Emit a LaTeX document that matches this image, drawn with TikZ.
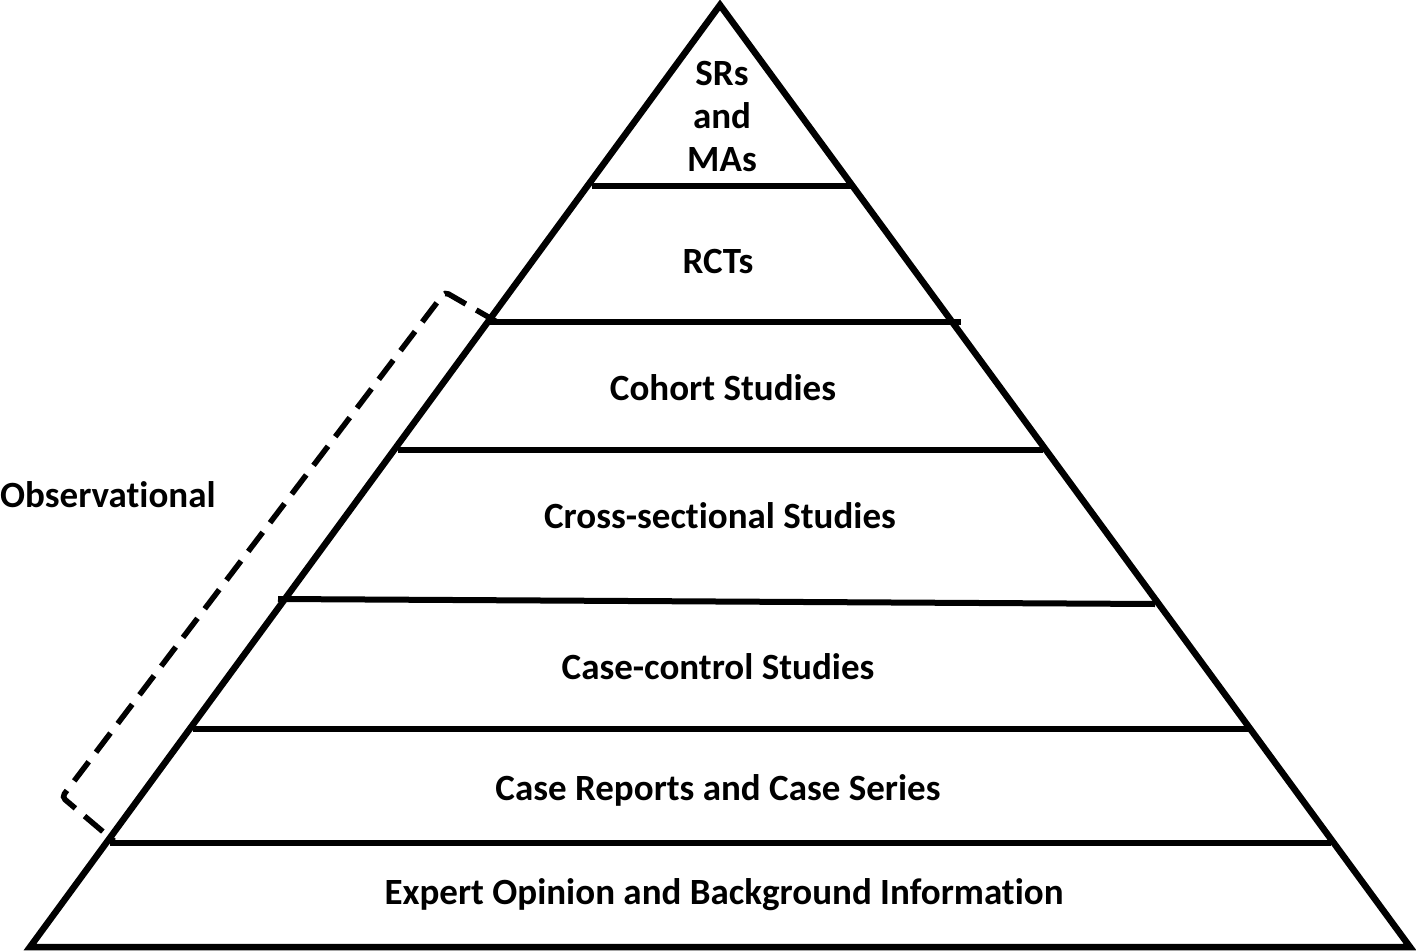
\documentclass[tikz,border=0pt]{standalone}
\usepackage{fontspec}
\setmainfont[RawFeature=-liga]{Carlito}
\begin{document}
\begin{tikzpicture}[x=1pt,y=-1pt,
  edge/.style={line width=6.5pt, line join=miter},
  tier/.style={line width=6pt},
  lbl/.style={font=\bfseries\fontsize{37}{43}\selectfont, align=center, inner sep=0pt},
  bracket/.style={line width=5.5pt, dash pattern=on 24pt off 12pt, rounded corners=4pt}]
\useasboundingbox (0,0) rectangle (1416,952);
% pyramid outline
\draw[edge] (30,947) -- (720,5) -- (1410,947) -- cycle;
% tiers
\draw[tier] (592,186) -- (852,186);
\draw[tier] (490,322) -- (961,322);
\draw[tier] (398,450) -- (1043,450);
\draw[tier] (278,599) -- (1155,604);
\draw[tier] (193,729) -- (1249,729);
\draw[tier] (110,843) -- (1331,843);
% bracket
\draw[bracket] (497,322) -- (445,292) -- (62,797) -- (114,841);
% labels
\node[lbl] (top) at (722,117) {SRs\\and\\MAs};
\node[lbl] (rct) at (718,262) {RCTs};
\node[lbl] (coh) at (723,388) {Cohort Studies};
\node[lbl] (cross) at (720,516) {Cross-sectional Studies};
\node[lbl] (cc) at (718,667) {Case-control Studies};
\node[lbl] (cr) at (718,790) {Case Reports and Case Series};
\node[lbl] (exp) at (724,895) {Expert Opinion and Background Information};
\node[lbl, anchor=west] (obs) at (0,495) {Observational};
\end{tikzpicture}
\end{document}
